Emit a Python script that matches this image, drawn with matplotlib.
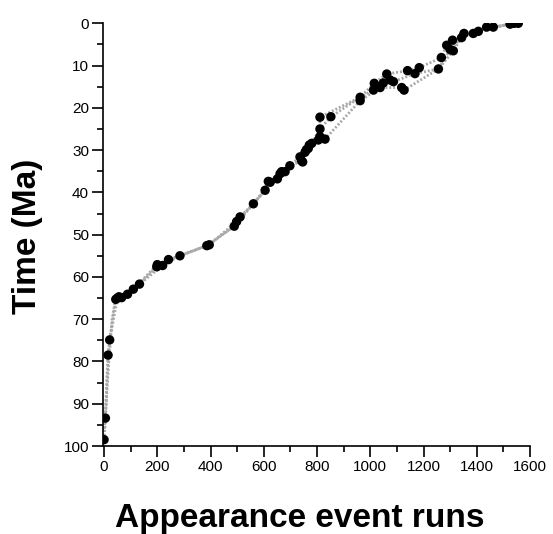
import matplotlib
matplotlib.use("Agg")
import matplotlib.pyplot as plt
from matplotlib.ticker import MultipleLocator

plt.rcParams['font.family'] = ['Liberation Sans', 'DejaVu Sans']

# Observed appearance events (dots)
dots_x = [0, 5, 15, 21, 44, 50, 56, 66, 88, 110, 133, 198, 200, 220, 242, 285,
          386, 395, 489, 498, 511, 561, 605, 617, 624, 651, 661, 667, 680, 698,
          736, 742, 746, 755, 760, 767, 771, 780, 805, 811, 830, 811, 811, 852,
          962, 962, 1012, 1015, 1037, 1049, 1062, 1074, 1087, 1118, 1127, 1140,
          1168, 1184, 1256, 1267, 1287, 1300, 1312, 1309, 1343, 1352, 1387, 1406,
          1437, 1462, 1525, 1540, 1556]
dots_y = [98.5, 93.4, 78.5, 74.9, 65.3, 65.0, 64.7, 64.9, 64.1, 62.9, 61.7, 57.6, 57.1, 57.3, 55.9, 55.0,
          52.6, 52.4, 48.0, 46.9, 45.8, 42.7, 39.5, 37.4, 37.6, 36.8, 35.6, 35.1, 35.1, 33.7,
          31.6, 32.5, 32.8, 30.5, 29.9, 29.6, 28.8, 28.4, 27.6, 26.8, 27.4, 25.0, 22.2, 22.1,
          17.5, 18.3, 15.8, 14.2, 15.2, 14.1, 12.0, 13.4, 13.8, 15.2, 15.8, 11.2,
          11.9, 10.5, 10.8, 8.1, 5.2, 6.2, 6.5, 4.0, 3.4, 2.4, 2.4, 1.9,
          0.9, 0.9, 0.2, 0.0, 0.0]

# Individual runs (gray dotted paths)
run_a_x = [0, 5, 15, 21, 44, 56, 88, 110, 133, 198, 220, 242, 285, 390, 489, 511, 561, 605, 617,
           651, 680, 698, 742, 767, 780, 811, 852, 962, 1015, 1062, 1140, 1184, 1267, 1287, 1309,
           1343, 1387, 1437, 1462, 1525, 1556]
run_a_y = [98.5, 93.4, 78.5, 74.9, 65.3, 64.7, 64.1, 62.9, 61.7, 57.6, 57.3, 55.9, 55.0, 52.5, 48.0,
           45.8, 42.7, 39.5, 37.4, 36.8, 35.1, 33.7, 32.5, 29.6, 28.4, 25.0, 22.1, 17.5, 14.2, 12.0,
           11.2, 10.5, 8.1, 5.2, 4.0, 3.4, 2.4, 0.9, 0.9, 0.2, 0.0]

run_b_x = [0, 8, 18, 30, 44, 66, 110, 200, 285, 395, 498, 561, 624, 667, 742, 771, 805, 830,
           962, 1037, 1118, 1127, 1256, 1312, 1352, 1406, 1462, 1540]
run_b_y = [96.0, 90.0, 80.0, 70.0, 65.0, 64.9, 62.9, 57.1, 55.0, 52.4, 46.9, 42.7, 37.6, 35.1,
           31.4, 28.8, 27.6, 27.4, 18.3, 15.2, 15.2, 15.8, 10.8, 6.5, 2.4, 1.9, 0.9, 0.0]

run_c_x = [0, 5, 12, 21, 50, 88, 133, 220, 285, 386, 489, 605, 651, 698, 742, 780, 811, 811,
           962, 1012, 1049, 1087, 1168, 1256, 1300, 1343, 1406, 1525]
run_c_y = [98.5, 93.4, 82.0, 74.9, 65.0, 64.1, 61.7, 57.3, 55.0, 52.6, 48.0, 39.5, 36.8, 33.7,
           32.5, 28.4, 26.8, 22.2, 17.5, 15.8, 14.1, 13.8, 11.9, 10.8, 6.2, 3.4, 1.9, 0.2]

x_ticks = [0, 200, 400, 600, 800, 1000, 1200, 1400, 1600]
y_ticks = [0, 10, 20, 30, 40, 50, 60, 70, 80, 90, 100]

fig = plt.figure(figsize=(5.53, 5.34), dpi=100)
ax = fig.add_axes([103/553, (534-446)/534, 427/553, (446-23.3)/534])

for rx, ry in [(run_a_x, run_a_y), (run_b_x, run_b_y), (run_c_x, run_c_y)]:
    ax.plot(rx, ry, color='#a8a8a8', linestyle=(0, (0.7, 0.7)), linewidth=2.0, zorder=1)

ax.scatter(dots_x, dots_y, s=46, color='black', edgecolors='none', zorder=3)

ax.set_xlim(-4, 1600)
ax.set_ylim(100, 0)
ax.set_xticks(x_ticks)
ax.set_yticks(y_ticks)
ax.xaxis.set_minor_locator(MultipleLocator(100))
ax.yaxis.set_minor_locator(MultipleLocator(5))

for s in ['top', 'right']:
    ax.spines[s].set_visible(False)
for s in ['left', 'bottom']:
    ax.spines[s].set_linewidth(1.2)

ax.tick_params(which='major', direction='out', length=8, width=1.2, labelsize=11, pad=2)
ax.tick_params(which='minor', direction='out', length=4.3, width=1.2)

fig.text(300/553, 1-519/534, 'Appearance event runs', ha='center', va='center',
         fontsize=24, fontweight='bold')
fig.text(28/553, 1-236/534, 'Time (Ma)', ha='center', va='center', rotation=90,
         fontsize=24, fontweight='bold')

fig.savefig('out.png', dpi=100)
